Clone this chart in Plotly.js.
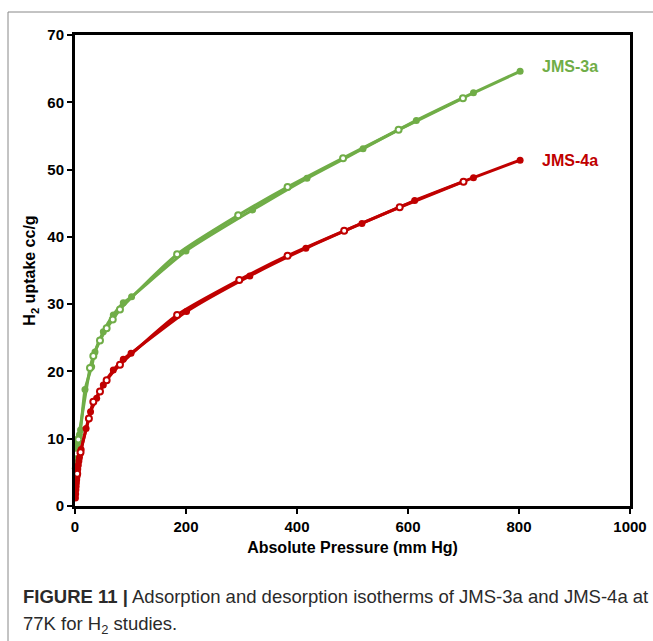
<!DOCTYPE html>
<html>
<head>
<meta charset="utf-8">
<script src="https://cdn.plot.ly/plotly-3.0.1.min.js"></script>
<style>
  html, body { margin: 0; padding: 0; background: #fff; }
  #chart { width: 653px; height: 641px; }
</style>
</head>
<body>
<div id="chart"></div>
<script>
// JMS-3a (green)
const p3Ads = [0.6, 1.0, 1.5, 2.2, 3.0, 4.0, 5.0, 6.5, 8.0, 10, 18, 30, 36, 51, 69, 87, 102, 200, 320, 418, 519, 615, 718, 802];
const u3Ads = [5.6, 6.4, 7.1, 7.8, 8.4, 9.0, 9.5, 10.1, 10.6, 11.3, 17.3, 20.7, 22.9, 25.9, 28.4, 30.2, 31.1, 37.9, 44.0, 48.7, 53.1, 57.3, 61.4, 64.6];
const p3Des = [699, 583, 483, 383, 294, 184, 81, 68, 57, 45, 33, 27, 6, 2];
const u3Des = [60.6, 55.9, 51.7, 47.4, 43.2, 37.4, 29.2, 27.7, 26.4, 24.6, 22.3, 20.5, 9.9, 7.8];
// JMS-4a (red)
const p4Ads = [0.8, 1.2, 1.6, 2.0, 2.5, 3.0, 3.6, 4.2, 5.0, 6.0, 7.0, 8.0, 9.5, 11, 20, 28, 39, 51, 69, 87, 101, 201, 315, 416, 517, 612, 718, 802];
const u4Ads = [1.2, 1.8, 2.4, 2.9, 3.4, 3.9, 4.4, 4.9, 5.5, 6.1, 6.7, 7.2, 7.8, 8.4, 11.5, 14.0, 16.0, 18.0, 20.2, 21.8, 22.7, 28.9, 34.2, 38.3, 42.0, 45.4, 48.8, 51.4];
const p4Des = [700, 585, 485, 383, 296, 184, 81, 57, 45, 33, 25, 10, 4];
const u4Des = [48.2, 44.4, 40.9, 37.2, 33.6, 28.4, 21.0, 18.7, 17.0, 15.5, 13.0, 8.0, 4.8];

const seriesNames = ['JMS-3a', 'JMS-4a'];
const xTicks = [0, 200, 400, 600, 800, 1000];
const yTicks = [0, 10, 20, 30, 40, 50, 60, 70];

const green = '#70AD47';
const red = '#C00000';

function ads(x, y, c, name) {
  return { x: x, y: y, name: name, type: 'scatter', mode: 'lines+markers',
    line: { color: c, width: 3, shape: 'spline', smoothing: 0.6 },
    marker: { color: c, size: 7, symbol: 'circle' }, cliponaxis: false, hoverinfo: 'x+y' };
}
function des(x, y, c, name) {
  return { x: x, y: y, name: name, type: 'scatter', mode: 'lines+markers',
    line: { color: c, width: 3, shape: 'spline', smoothing: 0.6 },
    marker: { color: '#ffffff', size: 6, symbol: 'circle', line: { color: c, width: 2 } },
    cliponaxis: false, hoverinfo: 'x+y' };
}

const data = [
  ads(p3Ads, u3Ads, green, seriesNames[0]),
  des(p3Des, u3Des, green, seriesNames[0]),
  ads(p4Ads, u4Ads, red, seriesNames[1]),
  des(p4Des, u4Des, red, seriesNames[1])
];

const font = 'Liberation Sans, Arial, sans-serif';
const capFont = 'Liberation Sans Narrow, Arial Narrow, Liberation Sans, sans-serif';
const layout = {
  width: 653, height: 641,
  margin: { l: 75, r: 23, t: 35, b: 135 },
  paper_bgcolor: '#fff', plot_bgcolor: '#fff',
  showlegend: false,
  xaxis: {
    range: [0, 1000], tickvals: xTicks, ticktext: xTicks.map(String),
    showline: true, mirror: true, linecolor: '#000', linewidth: 3,
    ticks: 'outside', ticklen: 5, tickwidth: 2, tickcolor: '#000',
    showgrid: false, zeroline: false,
    tickfont: { family: font, size: 15, color: '#000', weight: 'bold' },
    title: { text: 'Absolute Pressure (mm Hg)', standoff: 8,
      font: { family: font, size: 16, color: '#000', weight: 'bold' } }
  },
  yaxis: {
    range: [0, 70], tickvals: yTicks, ticktext: yTicks.map(String),
    showline: true, mirror: true, linecolor: '#000', linewidth: 3,
    ticks: 'outside', ticklen: 5, tickwidth: 2, tickcolor: '#000',
    showgrid: false, zeroline: false,
    tickfont: { family: font, size: 15, color: '#000', weight: 'bold' },
    title: { text: 'H<sub>2</sub> uptake cc/g', standoff: 8,
      font: { family: font, size: 16, color: '#000', weight: 'bold' } }
  },
  annotations: [
    { x: 838, y: 65.3, xref: 'x', yref: 'y', text: '<b>' + seriesNames[0] + '</b>', showarrow: false,
      xanchor: 'left', yanchor: 'middle', font: { family: font, size: 16, color: green } },
    { x: 838, y: 51.4, xref: 'x', yref: 'y', text: '<b>' + seriesNames[1] + '</b>', showarrow: false,
      xanchor: 'left', yanchor: 'middle', font: { family: font, size: 16, color: red } },
    { x: -0.097, y: -0.193, xref: 'paper', yref: 'paper', xanchor: 'left', yanchor: 'middle',
      showarrow: false, align: 'left',
      text: '<b>FIGURE 11 |</b> Adsorption and desorption isotherms of JMS-3a and JMS-4a at',
      font: { family: capFont, size: 18.5, color: '#2a2a2a' } },
    { x: -0.097, y: -0.252, xref: 'paper', yref: 'paper', xanchor: 'left', yanchor: 'middle',
      showarrow: false, align: 'left',
      text: '77K for H<sub>2</sub> studies.',
      font: { family: capFont, size: 18.5, color: '#2a2a2a' } }
  ],
  shapes: [
    { type: 'line', xref: 'paper', yref: 'paper', x0: -0.1207, x1: 1.05, y0: 1.0488, y1: 1.0488,
      line: { color: '#888', width: 1 } },
    { type: 'line', xref: 'paper', yref: 'paper', x0: -0.1207, x1: -0.1207, y0: 1.0488, y1: -0.3,
      line: { color: '#888', width: 1 } }
  ]
};

Plotly.newPlot('chart', data, layout, { displayModeBar: false, staticPlot: true });
</script>
</body>
</html>
